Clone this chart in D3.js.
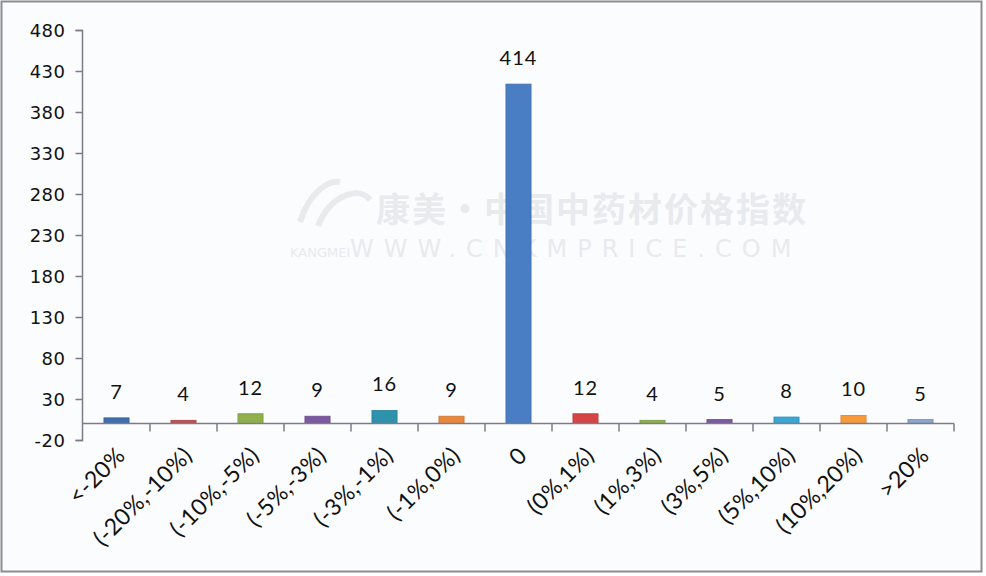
<!DOCTYPE html>
<html><head><meta charset="utf-8">
<script src="https://cdn.jsdelivr.net/npm/d3@7"></script>
<style>
html,body{margin:0;padding:0;background:#fff;}
svg{display:block;}
</style></head>
<body>
<svg id="chart" width="986" height="576"></svg>
<script>
const categories = ["<-20%","(-20%,-10%)","(-10%,-5%)","(-5%,-3%)","(-3%,-1%)","(-1%,0%)","0","(0%,1%)","(1%,3%)","(3%,5%)","(5%,10%)","(10%,20%)",">20%"];
const values = [7,4,12,9,16,9,414,12,4,5,8,10,5];
const barColors = ["#3f6fad","#c0504d","#8fb04a","#7b5aa0","#2f92ad","#e9873b","#4a7ec4","#d64545","#8fb04a","#7b5aa0","#3aa6d4","#f79a3a","#8aa6cc"];
const yTicks = [-20,30,80,130,180,230,280,330,380,430,480];

const svg = d3.select("#chart");
// frame
svg.append("rect").attr("x",1.5).attr("y",1.5).attr("width",980).attr("height",570)
  .attr("fill","#fbfcfe").attr("stroke","#8c8c94").attr("stroke-width",2);

const x = d3.scaleBand().domain(categories).range([83,954]).paddingInner(0.625).paddingOuter(0.3125);
const y = d3.scaleLinear().domain([-20,480]).range([440,30]);

// watermark
const wm = svg.append("g").attr("fill","#e8eaee").attr("font-family","'Noto Sans CJK SC', sans-serif");
wm.append("text").attr("x",376).attr("y",222).attr("font-size",34).attr("font-weight","bold")
  .attr("letter-spacing",2).text("康美·中国中药材价格指数");
wm.append("text").attr("x",290).attr("y",257).attr("font-size",13).attr("font-family","'DejaVu Sans', sans-serif").text("KANGMEI");
wm.append("text").attr("x",350).attr("y",257).attr("font-size",24).attr("font-family","'DejaVu Sans', sans-serif")
  .attr("letter-spacing",10).text("WWW.CNKMPRICE.COM");
wm.append("path").attr("d","M300,222 C310,190 330,180 340,182 M318,226 C330,195 360,185 370,200")
  .attr("fill","none").attr("stroke","#e8eaee").attr("stroke-width",6);

// bars
svg.append("g").selectAll("rect").data(values).join("rect")
  .attr("x",(d,i)=>x(categories[i]))
  .attr("y",d=>y(d))
  .attr("width",x.bandwidth())
  .attr("height",d=>y(0)-y(d))
  .attr("fill",(d,i)=>barColors[i])
  .attr("stroke",(d,i)=>d3.color(barColors[i]).darker(0.4))
  .attr("stroke-width",0.8);

// value labels
svg.append("g").selectAll("text").data(values).join("text")
  .attr("x",(d,i)=>x(categories[i])+x.bandwidth()/2)
  .attr("y",d=>y(d)-19)
  .attr("text-anchor","middle")
  .attr("font-family","Lato, 'Open Sans', sans-serif")
  .attr("font-size",20)
  .attr("letter-spacing",1)
  .attr("fill","#111")
  .text(d=>d);

// y axis
const yAxis = d3.axisLeft(y).tickValues(yTicks).tickSize(7).tickPadding(10).tickFormat(d=>String(d));
const gy = svg.append("g").attr("transform","translate(82.5,0)").call(yAxis);
gy.select(".domain").attr("stroke","#7e7a8c").attr("stroke-width",1.5).attr("d","M-7,30.5H0V440.5H-7");
gy.selectAll(".tick line").attr("stroke","#7e7a8c").attr("stroke-width",1.5);
gy.selectAll(".tick text").attr("font-family","'DejaVu Sans', sans-serif").attr("font-size",18)
  .attr("fill","#111").attr("dy","0.35em").attr("letter-spacing",0.5);

// x axis at 0
const gx = svg.append("g").attr("transform",`translate(0,${y(0)})`);
gx.append("line").attr("x1",83).attr("x2",954).attr("stroke","#7e7a8c").attr("stroke-width",1.5);
gx.selectAll("line.tk").data(d3.range(1,categories.length+1)).join("line").attr("class","tk")
  .attr("x1",i=>x(categories[0]) - x.paddingOuter()*x.step() + i*x.step())
  .attr("x2",i=>x(categories[0]) - x.paddingOuter()*x.step() + i*x.step())
  .attr("y1",0).attr("y2",8).attr("stroke","#7e7a8c").attr("stroke-width",1.5);

// x labels
svg.append("g").selectAll("text").data(categories).join("text")
  .attr("transform",d=>`translate(${x(d)+x.bandwidth()/2+10},${457}) rotate(-45)`)
  .attr("text-anchor","end")
  .attr("font-family","Lato, 'Open Sans', sans-serif")
  .attr("font-size",23)
  .attr("letter-spacing",0.3)
  .attr("fill","#111")
  .text(d=>d);
</script>
</body></html>
